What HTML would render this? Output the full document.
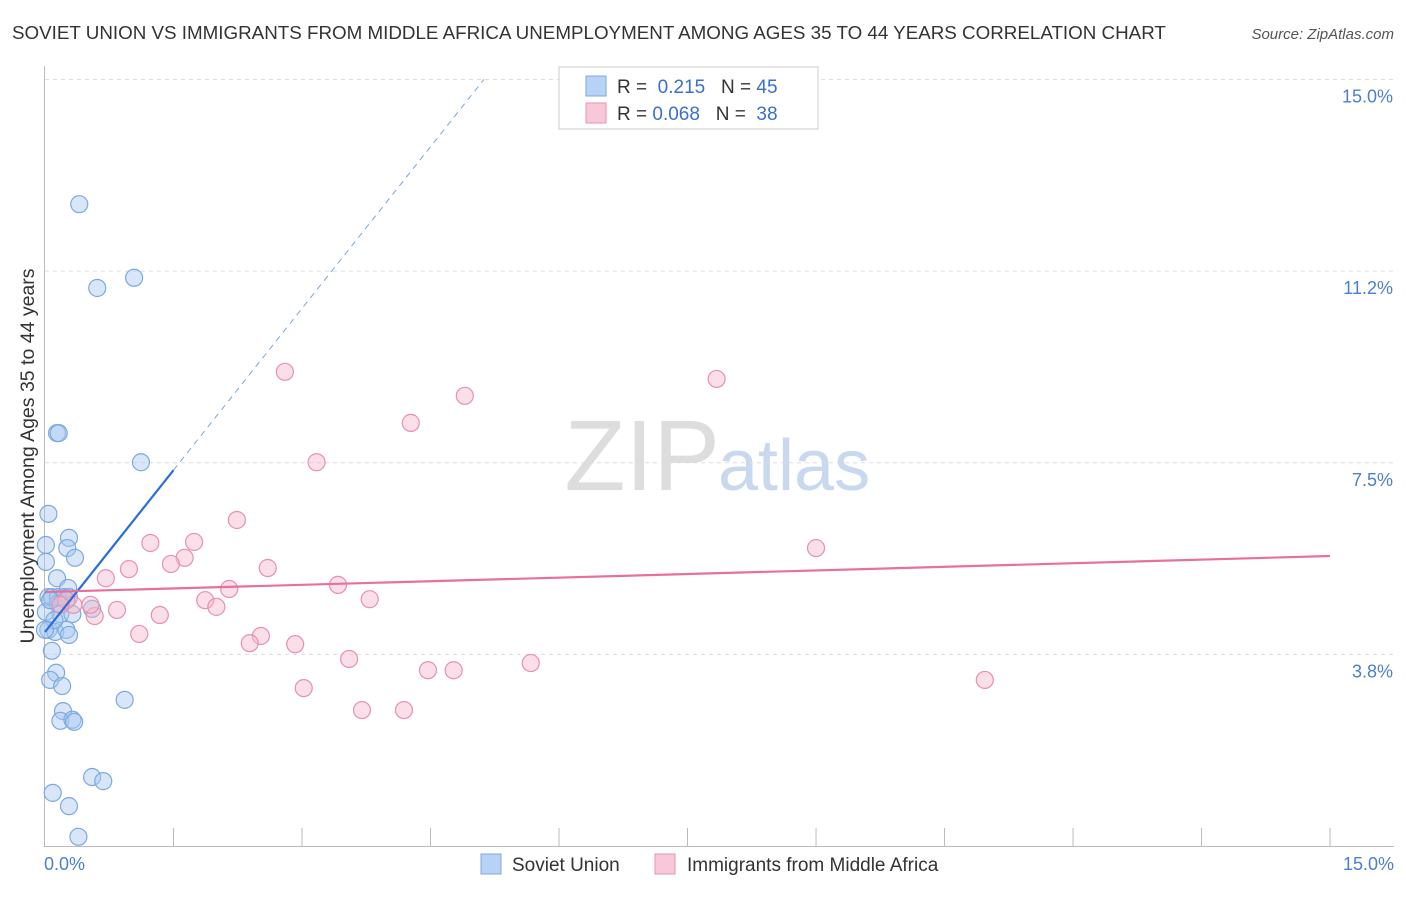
<!DOCTYPE html>
<html><head><meta charset="utf-8"><style>
body{margin:0;background:#fff;font-family:"Liberation Sans",sans-serif}
svg text{font-family:"Liberation Sans",sans-serif}
</style></head><body>
<svg id="chart" width="1406" height="892">
<text x="12" y="39" font-size="18.8" fill="#333">SOVIET UNION VS IMMIGRANTS FROM MIDDLE AFRICA UNEMPLOYMENT AMONG AGES 35 TO 44 YEARS CORRELATION CHART</text>
<text x="1394" y="39" font-size="15" fill="#555" font-style="italic" text-anchor="end">Source: ZipAtlas.com</text>
<text x="720" y="490" font-size="100" fill="#ddd" font-family="Liberation Serif,serif" text-anchor="end">ZIP</text>
<text x="718" y="490" font-size="72" fill="#c8d8ee">atlas</text>
<g id="grid"></g><g id="axes"></g><g id="marks"></g>
<text transform="translate(34,456) rotate(-90)" font-size="19.5" fill="#333" text-anchor="middle">Unemployment Among Ages 35 to 44 years</text>
<text x="44" y="870" font-size="18" fill="#4a7fd0">0.0%</text>
<text x="1394" y="870" font-size="18" fill="#4a7fd0" text-anchor="end">15.0%</text>
<g>
<rect x="559" y="67" width="259" height="62" fill="#fff" stroke="#ccc"/>
<rect x="586" y="76" width="20" height="20" fill="#b8d2f4" stroke="#7aaae0"/>
<rect x="586" y="103" width="20" height="20" fill="#f8c8d8" stroke="#e890b0"/>
<text x="617" y="93" font-size="19" fill="#333">R = <tspan fill="#3a6fd0">&#160;0.215</tspan>&#160;&#160;&#160;N = <tspan fill="#3a6fd0">45</tspan></text>
<text x="617" y="120" font-size="19" fill="#333">R = <tspan fill="#3a6fd0">0.068</tspan>&#160;&#160;&#160;N = <tspan fill="#3a6fd0">&#160;38</tspan></text>
</g>
<g>
<rect x="481" y="854" width="20" height="20" fill="#b8d2f4" stroke="#7aaae0"/>
<text x="512" y="871" font-size="19" fill="#333">Soviet Union</text>
<rect x="655" y="854" width="20" height="20" fill="#f8c8d8" stroke="#e890b0"/>
<text x="687" y="871" font-size="19" fill="#333">Immigrants from Middle Africa</text>
</g>
</svg>
<script>
const yTicks=[3.75,7.5,11.25,15];
const yTickLabels=["3.8%","7.5%","11.2%","15.0%"];
const xTicks=[1.5,3,4.5,6,7.5,9,10.5,12,13.5,15];
const blueX=[0.40,0.61,1.04,0.14,0.16,1.12,0.04,0.28,0.26,0.35,0.01,0.01,0.14,0.27,0.04,0.08,0.15,0.22,0.28,0.15,0.18,0.32,0.55,0.04,0.12,0.25,0.28,0.08,0.13,0.06,0.20,0.93,0.21,0.18,0.32,0.34,0.55,0.68,0.09,0.28,0.39,0.01,0.11,0.06,0.0];
const blueY=[12.56,10.92,11.12,8.08,8.08,7.51,6.50,6.03,5.83,5.64,5.89,5.56,5.24,5.05,4.87,4.87,4.87,4.87,4.87,4.74,4.54,4.54,4.64,4.23,4.19,4.23,4.13,3.82,3.39,3.25,3.13,2.86,2.64,2.45,2.47,2.43,1.35,1.27,1.04,0.78,0.18,4.58,4.42,4.81,4.23];
const pinkX=[2.80,7.84,4.90,4.27,3.17,2.24,1.74,1.23,9.00,1.63,0.98,1.47,2.60,0.71,2.15,3.42,1.87,3.79,2.00,0.84,1.34,0.58,0.33,0.25,2.52,2.39,1.10,2.92,3.55,4.47,4.77,5.67,3.02,10.97,3.70,4.19,0.53,0.18];
const pinkY=[9.28,9.14,8.81,8.28,7.51,6.38,5.95,5.93,5.83,5.64,5.42,5.52,5.44,5.24,5.03,5.11,4.81,4.83,4.68,4.62,4.52,4.50,4.72,4.81,4.11,3.97,4.15,3.95,3.66,3.44,3.44,3.58,3.09,3.25,2.66,2.66,4.72,4.72];
const blueFit=[4.19,2.11];
const pinkFit=[4.97,0.047];
const NS="http://www.w3.org/2000/svg";
const xs=v=>45+v*85.67, ys=v=>846-v*51.1;
function mk(tag,at,parent){const e=document.createElementNS(NS,tag);for(const k in at)e.setAttribute(k,at[k]);document.getElementById(parent).appendChild(e);return e;}
yTicks.forEach((t,i)=>{
 const l=mk('line',{x1:45,x2:1394,y1:ys(t),y2:ys(t),stroke:'#ddd','stroke-dasharray':'4,4'},'grid');
 
 
 const tx=mk('text',{x:1393,y:ys(t)+23,'font-size':18,fill:'#4a7fd0','text-anchor':'end'},'grid');
 tx.textContent=yTickLabels[i];
 
 
});
const ya=mk('line',{x1:44.5,x2:44.5,y1:66,y2:846,stroke:'#bbb'},'axes');


const xa=mk('line',{x1:44,x2:1394,y1:846.5,y2:846.5,stroke:'#bbb'},'axes');


xTicks.forEach(t=>{
 const l=mk('line',{x1:xs(t),x2:xs(t),y1:828,y2:846,stroke:'#bbb'},'axes');
 
 
});
function pts(X,Y,fill,stroke,name){X.forEach((x,i)=>{
 const c=mk('circle',{cx:xs(x),cy:ys(Y[i]),r:8.5,fill:fill,'fill-opacity':0.45,stroke:stroke,'stroke-width':1.2},'marks');
 
 
});}
pts(blueX,blueY,'#a8c8f0','#7aaae0','soviet-union-point');
pts(pinkX,pinkY,'#f4b8cc','#e890b0','middle-africa-point');
const b1=mk('line',{x1:xs(0),y1:ys(blueFit[0]),x2:xs(1.5),y2:ys(blueFit[0]+blueFit[1]*1.5),stroke:'#2a6fd8','stroke-width':2.2},'marks');


const xe=(15-blueFit[0])/blueFit[1];
const b2=mk('line',{x1:xs(1.5),y1:ys(blueFit[0]+blueFit[1]*1.5),x2:xs(xe),y2:ys(15),stroke:'#7aa4e0','stroke-width':1,'stroke-dasharray':'6,5'},'marks');


const p1=mk('line',{x1:xs(0),y1:ys(pinkFit[0]),x2:xs(15),y2:ys(pinkFit[0]+pinkFit[1]*15),stroke:'#e8709a','stroke-width':2.2},'marks');


</script>
</body></html>
